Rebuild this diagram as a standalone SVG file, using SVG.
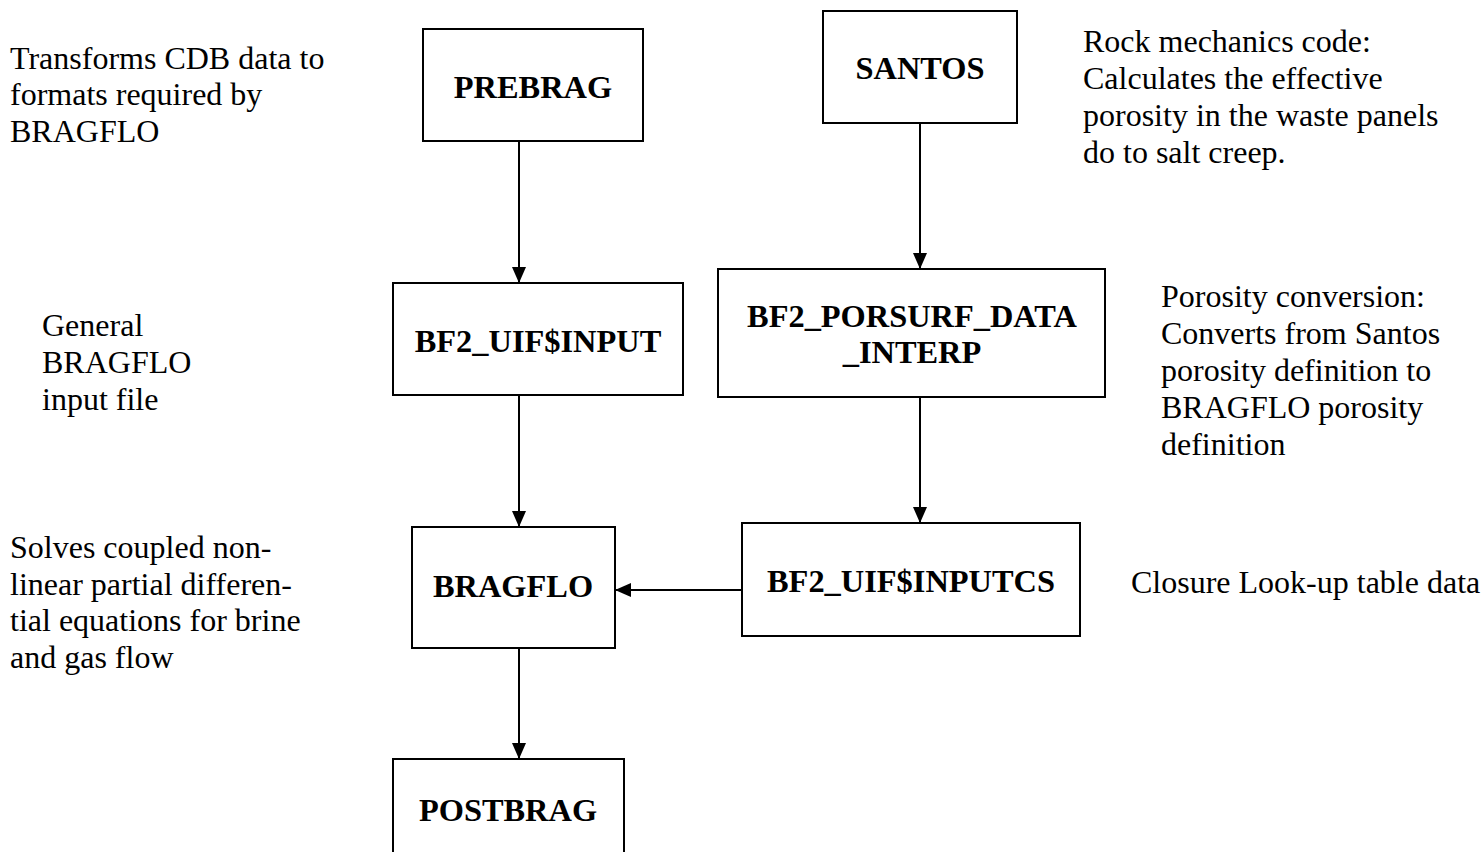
<svg xmlns="http://www.w3.org/2000/svg" width="1484" height="852" viewBox="0 0 1484 852">
  <defs>
    <marker id="arr" viewBox="0 0 16 14" refX="16" refY="7" markerWidth="16" markerHeight="14" markerUnits="userSpaceOnUse" orient="auto">
      <path d="M0,0 L16,7 L0,14 Z" fill="#000"/>
    </marker>
    <style>
      .box { fill: #fff; stroke: #000; stroke-width: 2; }
      .lbl { font-family: "Liberation Serif", "Times New Roman", serif; font-weight: bold; font-size: 32.4px; fill: #000; text-anchor: middle; }
      .note { font-family: "Liberation Serif", "Times New Roman", serif; font-size: 32px; fill: #000; }
      .conn { stroke: #000; stroke-width: 2; fill: none; marker-end: url(#arr); }
    </style>
  </defs>
  <rect width="1484" height="852" fill="#fff"/>

  <g id="connectors">
    <line class="conn" x1="519" y1="141" x2="519" y2="283"/>
    <line class="conn" x1="920" y1="123" x2="920" y2="269"/>
    <line class="conn" x1="519" y1="395" x2="519" y2="527"/>
    <line class="conn" x1="920" y1="397" x2="920" y2="523"/>
    <line class="conn" x1="742" y1="590" x2="615" y2="590"/>
    <line class="conn" x1="519" y1="648" x2="519" y2="759"/>
  </g>

  <g id="node-prebrag">
    <rect class="box" x="423" y="29" width="220" height="112"/>
    <text class="lbl" x="533" y="98">PREBRAG</text>
  </g>
  <g id="node-santos">
    <rect class="box" x="823" y="11" width="194" height="112"/>
    <text class="lbl" x="920" y="79">SANTOS</text>
  </g>
  <g id="node-bf2-uif-input">
    <rect class="box" x="393" y="283" width="290" height="112"/>
    <text class="lbl" x="538" y="352">BF2_UIF$INPUT</text>
  </g>
  <g id="node-bf2-porsurf">
    <rect class="box" x="718" y="269" width="387" height="128"/>
    <text class="lbl" x="912" y="327">BF2_PORSURF_DATA</text>
    <text class="lbl" x="912" y="363">_INTERP</text>
  </g>
  <g id="node-bragflo">
    <rect class="box" x="412" y="527" width="203" height="121"/>
    <text class="lbl" x="513" y="597">BRAGFLO</text>
  </g>
  <g id="node-bf2-uif-inputcs">
    <rect class="box" x="742" y="523" width="338" height="113"/>
    <text class="lbl" x="911" y="592">BF2_UIF$INPUTCS</text>
  </g>
  <g id="node-postbrag">
    <rect class="box" x="393" y="759" width="231" height="110"/>
    <text class="lbl" x="508" y="821">POSTBRAG</text>
  </g>

  <g id="notes">
    <text class="note" x="10" y="69">Transforms CDB data to</text>
    <text class="note" x="10" y="105">formats required by</text>
    <text class="note" x="10" y="142">BRAGFLO</text>

    <text class="note" x="42" y="336">General</text>
    <text class="note" x="42" y="373">BRAGFLO</text>
    <text class="note" x="42" y="410">input file</text>

    <text class="note" x="10" y="558">Solves coupled non-</text>
    <text class="note" x="10" y="595">linear partial differen-</text>
    <text class="note" x="10" y="631">tial equations for brine</text>
    <text class="note" x="10" y="668">and gas flow</text>

    <text class="note" x="1083" y="52">Rock mechanics code:</text>
    <text class="note" x="1083" y="89">Calculates the effective</text>
    <text class="note" x="1083" y="126">porosity in the waste panels</text>
    <text class="note" x="1083" y="163">do to salt creep.</text>

    <text class="note" x="1161" y="307">Porosity conversion:</text>
    <text class="note" x="1161" y="344">Converts from Santos</text>
    <text class="note" x="1161" y="381">porosity definition to</text>
    <text class="note" x="1161" y="418">BRAGFLO porosity</text>
    <text class="note" x="1161" y="455">definition</text>

    <text class="note" x="1131" y="593">Closure Look-up table data</text>
  </g>
</svg>
